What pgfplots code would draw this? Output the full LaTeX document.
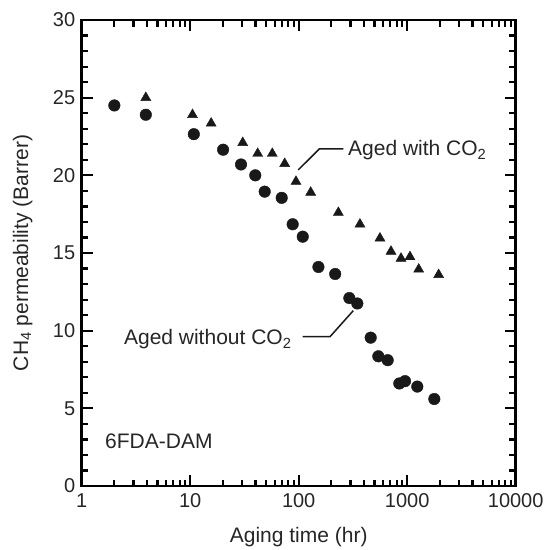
\documentclass[border=0pt]{standalone}
\usepackage{fontspec}
\setmainfont{Liberation Sans}
\usepackage{pgfplots}
\pgfplotsset{compat=1.18}
\begin{document}
\begin{tikzpicture}
\path[use as bounding box] (-81.7pt,-64pt) rectangle (464.3pt,486pt);
\begin{axis}[
  scale only axis, width=434pt, height=466pt,
  xmode=log, xmin=1, xmax=10000, ymin=0, ymax=30,
  xtick={1,10,100,1000,10000}, xticklabels={1,10,100,1000,10000},
  minor xtick={2,3,4,5,6,7,8,9,20,30,40,50,60,70,80,90,200,300,400,500,600,700,800,900,2000,3000,4000,5000,6000,7000,8000,9000},
  ytick={0,5,10,15,20,25,30},
  minor ytick={1,2,3,4,6,7,8,9,11,12,13,14,16,17,18,19,21,22,23,24,26,27,28,29},
  tick align=inside,
  axis line style={line width=2.6pt, black},
  major tick length=11pt, minor tick length=6.5pt,
  every tick/.style={line width=2.2pt, black},
  /pgf/number format/assume math mode=true,
  tick label style={font=\fontsize{20}{24}\selectfont, text=black!85},
  yticklabel style={xshift=-3pt},
  xticklabel style={yshift=-4pt},
  label style={font=\fontsize{21}{25}\selectfont, text=black!85},
  xlabel={Aging time (hr)},
  ylabel={CH\textsubscript{4} permeability (Barrer)},
  xlabel style={at={(axis description cs:0.5,-0.1223)}, anchor=base},
  ylabel style={at={(axis description cs:-0.1237,0.5)}, anchor=base},
]
\addplot[only marks, mark=*, mark size=5.8pt, black!90] coordinates {
(2.0,24.5) (3.9,23.9) (10.8,22.65) (20.1,21.65) (29.4,20.7) (39.8,20.0)
(48.6,18.95) (69.7,18.55) (88,16.85) (109,16.05) (152,14.1) (217,13.65)
(293,12.1) (347,11.75) (461,9.55) (542,8.35) (661,8.1) (846,6.6)
(955,6.75) (1239,6.4) (1778,5.6)
};
\addplot[only marks, mark=triangle*, mark size=5.8pt, black!90] coordinates {
(3.9,25.0) (10.5,23.9) (15.6,23.35) (30.5,22.1) (41.9,21.4) (57.1,21.4)
(74.3,20.75) (94.4,19.6) (129,18.9) (232,17.6) (367,16.85) (561,15.95)
(709,15.1) (877,14.65) (1061,14.75) (1277,13.95) (1950,13.6)
};
\draw[line width=1.5pt, black!90] (axis cs:99.1,20.35) -- (axis cs:154.9,21.7) -- (axis cs:257.8,21.7);
\node[anchor=base west, inner sep=0pt, font=\fontsize{21}{25}\selectfont, text=black!85] at (axis cs:284.6,21.25) {Aged with CO\textsubscript{2}};
\draw[line width=1.5pt, black!90] (axis cs:108.9,9.61) -- (axis cs:194.3,9.61) -- (axis cs:318.6,11.29);
\node[anchor=base east, inner sep=0pt, font=\fontsize{21}{25}\selectfont, text=black!85] at (axis cs:86.2,9.08) {Aged without CO\textsubscript{2}};
\node[anchor=base west, inner sep=0pt, font=\fontsize{21}{25}\selectfont, text=black!85] at (axis cs:1.64,2.43) {6FDA-DAM};
\end{axis}
\end{tikzpicture}
\end{document}
